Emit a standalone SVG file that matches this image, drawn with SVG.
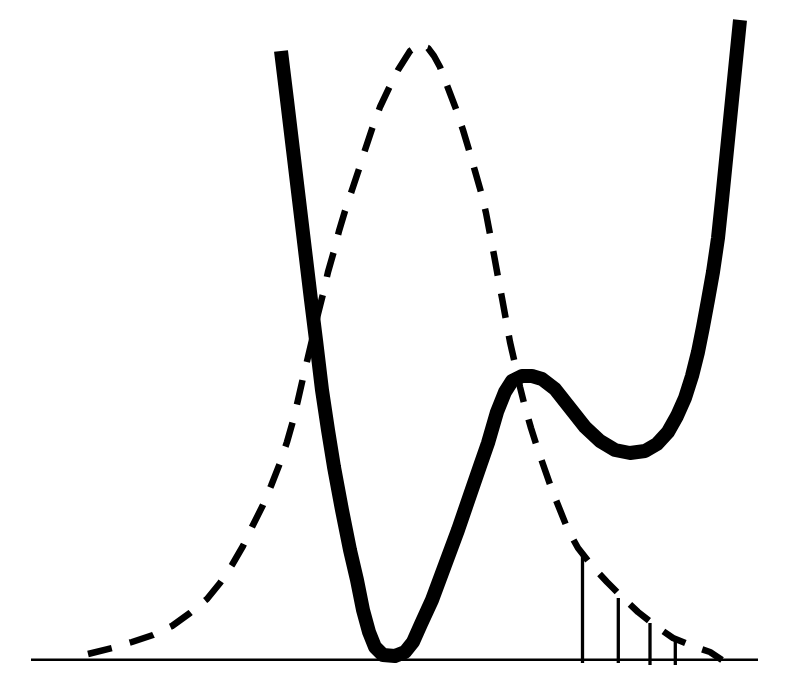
<svg xmlns="http://www.w3.org/2000/svg" width="786" height="686" viewBox="0 0 786 686">
<style>
.base{stroke:#000;stroke-width:2.5;fill:none}
.pot{stroke:#000;stroke-width:14;fill:none;stroke-linejoin:round;stroke-linecap:butt}
.dens{stroke:#000;stroke-width:6.5;fill:none;stroke-dasharray:25 18;stroke-dashoffset:34;stroke-linejoin:round}
.dens.l{stroke-dasharray:25 18.7;stroke-dashoffset:34.7}
.stem{stroke:#000;stroke-width:3.3;fill:none}
</style>
<rect width="786" height="686" fill="#fff"/>
<g id="baseline"><line class="base" x1="31" y1="659.7" x2="758" y2="659.7"/></g>
<g id="density">
<polyline class="dens l" points="419,45 410,51 398,70 389,88 380,107 372,129 365,150 359,169 352,190 345,211 339,231 334,251 328,272 323,294 318,314 313,336 308,357 303,378 298,400 293,421 287,442 280,463 271,486 263,505 252,527 243,546 232,565 220,583 207,599 190,613 172,626 153,635 132,642 112,648 88,654"/>
<polyline class="dens" points="419,45 428,48 434,56 440,67 448,88 456,109 463,130 469,150 475,171 481,192 486,213 490,234 494,255 498,277 502,298 506,320 510,342 515,364 520,387 525,407 531,428 538,450 545,470 552,490 560,510 568,530 578,548 593,567 607,582 623,598 638,612 657,627 673,638 695,647 710,652 722,660"/>
</g>
<g id="potential"><polyline class="pot" points="281,51 287,100 293,150 299,200 305,250 311,300 316,340 322,390 328,430 334,467 342,510 350,550 357,580 363,610 369,632 375,647 383,655 395,656 405,652 413,642 421,624 432,600 445,565 458,530 470,495 480,466 488,443 497,412 505,392 512,381 522,376 532,376 542,379 555,389 570,408 585,427 600,441 615,450 630,453 645,451 657,444 668,432 677,416 685,398 692,376 698,352 703,327 708,300 713,272 718,238 722,200 726,160 730,120 734,80 738,40 740,20"/></g>
<g id="stems">
<line class="stem" x1="582.5" y1="663" x2="582.5" y2="553"/>
<line class="stem" x1="618.3" y1="663" x2="618.3" y2="598"/>
<line class="stem" x1="650" y1="665" x2="650" y2="623"/>
<line class="stem" x1="675.3" y1="665" x2="675.3" y2="637"/>
</g>
</svg>
